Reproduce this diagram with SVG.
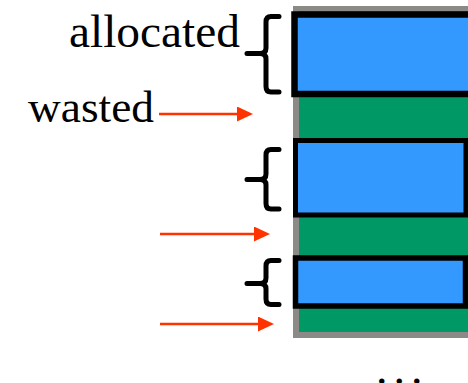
<svg xmlns="http://www.w3.org/2000/svg" width="468" height="383" viewBox="0 0 468 383">
<style>
.lbl{font-family:"Liberation Serif","Times New Roman",serif;fill:#000}
.blk{fill:#3399FF;stroke:#000}
.brace{fill:none;stroke:#000;stroke-width:5;stroke-linecap:round;stroke-linejoin:round}
.arr{stroke:#FF3300;stroke-width:2.5;fill:none}
</style>
<defs>
<marker id="ah" markerUnits="userSpaceOnUse" markerWidth="16" markerHeight="15" refX="8" refY="7.5" orient="auto">
<path d="M0,0 L16,7.5 L0,15 z" fill="#FF3300"/>
</marker>
</defs>
<g id="memory">
<rect x="293" y="6" width="180" height="332" fill="#8c8a87"/>
<rect x="299" y="11" width="175" height="321" fill="#009966"/>
</g>
<g id="block1"><rect class="blk" x="294.5" y="14.5" width="200" height="79.5" stroke-width="6.5"/></g>
<g id="block2"><rect class="blk" x="295.5" y="140.5" width="170.5" height="74.5" stroke-width="5"/></g>
<g id="block3"><rect class="blk" x="295.5" y="258" width="170" height="48" stroke-width="5.5"/></g>
<g id="brace1"><path class="brace" d="M279,16.5 H271 Q266,16.5 266,22 V48 Q266,53.5 260,53.5 H247 M260,53.5 Q266,53.5 266,59 V86.5 Q266,92 271,92 H279"/></g>
<g id="brace2"><path class="brace" d="M279,149.5 H271 Q266,149.5 266,155 V174 Q266,179.5 260,179.5 H247 M260,179.5 Q266,179.5 266,185 V203.5 Q266,209 271,209 H279"/></g>
<g id="brace3"><path class="brace" d="M279,260.5 H271 Q266,260.5 266,266 V278 Q266,283.5 260,283.5 H247 M260,283.5 Q266,283.5 266,289 V299 Q266,304.5 271,304.5 H279"/></g>
<g id="label-allocated"><text class="lbl" x="69" y="47" font-size="46" textLength="171" lengthAdjust="spacingAndGlyphs">allocated</text></g>
<g id="label-wasted"><text class="lbl" x="28" y="122" font-size="45" textLength="126" lengthAdjust="spacingAndGlyphs">wasted</text></g>
<g id="ellipsis"><text class="lbl" x="376" y="383.5" font-size="46" letter-spacing="6">...</text></g>
<g id="connectors">
<line class="arr" x1="159" y1="114" x2="245" y2="114" marker-end="url(#ah)"/>
<line class="arr" x1="160" y1="234" x2="262" y2="234" marker-end="url(#ah)"/>
<line class="arr" x1="160" y1="324" x2="266" y2="324" marker-end="url(#ah)"/>
</g>
</svg>
